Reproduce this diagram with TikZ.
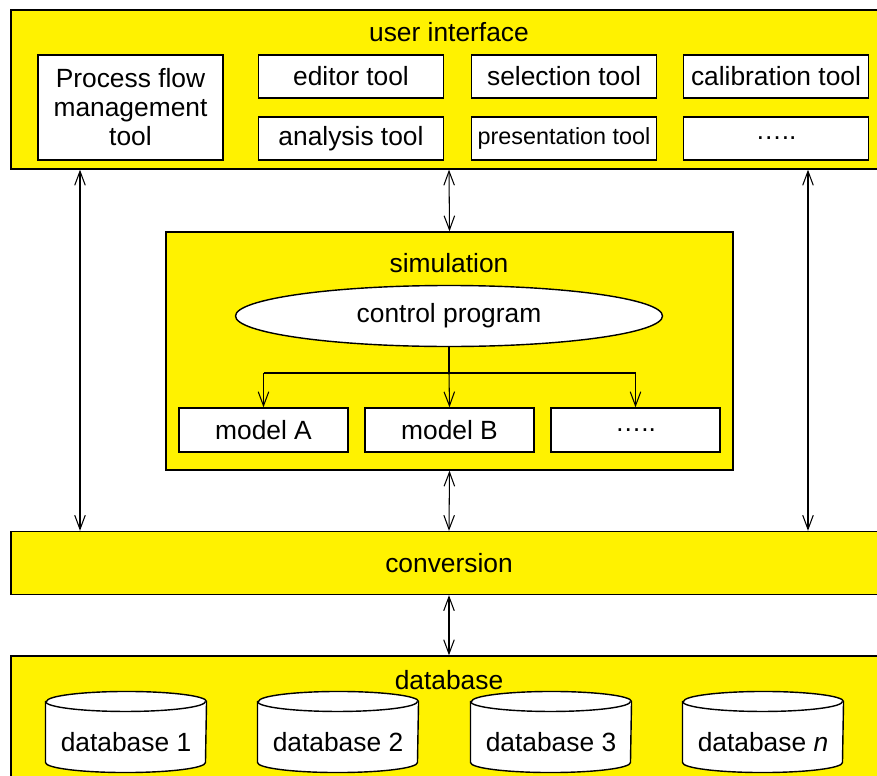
\documentclass[tikz,border=0pt]{standalone}
\usepackage{fontspec}
\setmainfont{Liberation Sans}
\usetikzlibrary{arrows.meta,shapes.geometric}

\tikzset{
  layer/.style={draw, fill=yellow, line width=0.8pt},
  tool/.style={draw, fill=white, line width=0.8pt, minimum width=3.7cm, minimum height=0.86cm},
  model/.style={draw, fill=white, line width=0.8pt, minimum width=3.38cm, minimum height=0.88cm},
  store/.style={minimum width=3.2cm, minimum height=1.6cm},
}

\begin{document}
\begin{tikzpicture}[x=0.2mm, y=-0.2mm, font=\fontsize{15}{16.5}\selectfont,
    >={Straight Barb[length=8pt,width=6pt]}, line width=0.6pt]
    \useasboundingbox (0,0) rectangle (877,776);
    \clip (0,0) rectangle (877,776);

    % user interface
    \node[layer, minimum width=17.52cm, minimum height=3.18cm] (ui) at (449,89.5) {};
    \node (uititle) at (449,32) {user interface};
    \node[tool, minimum height=2.1cm, align=center] (pf) at (130.5,107.5) {Process flow\\management\\tool};
    \node[tool] (edit) at (351,76.5) {editor tool};
    \node[tool] (anal) at (351,138.5) {analysis tool};
    \node[tool] (sel) at (564,76.5) {selection tool};
    \node[tool, font=\fontsize{13.3}{15}\selectfont] (pres) at (564,138.5) {presentation tool};
    \node[tool] (cal) at (776,76.5) {calibration tool};
    \node[tool] (more) at (776,138.5) {\dots..};

    % simulation
    \node[layer, minimum width=11.34cm, minimum height=4.76cm] (sim) at (449.5,351) {};
    \node (simtitle) at (449,263) {simulation};
    \node[draw, fill=white, line width=0.8pt, ellipse, minimum width=8.54cm, minimum height=1.22cm] (ctrl) at (449,316) {control program};
    \node[model] (ma) at (263.5,430) {model A};
    \node[model] (mb) at (449.5,430) {model B};
    \node[model] (mx) at (635.5,430) {\dots..};

    % conversion
    \node[layer, minimum width=17.52cm, minimum height=1.26cm] (conv) at (449,563) {conversion};

    % database
    \node[layer, minimum width=17.52cm, minimum height=2.6cm] (db) at (449,721) {};
    \node (dbtitle) at (449,680) {database};
    \node[store] (db1) at (126,732) {};
    \node[store] (db2) at (338,732) {};
    \node[store] (db3) at (551,732) {};
    \node[store] (dbn) at (763,732) {};
    % cylinders round the store nodes
    \foreach \n in {db1,db2,db3,dbn} {
      \draw[fill=white, line width=0.8pt] ([yshift=-0.2cm]\n.north west) -- ([yshift=0.2cm]\n.south west)
        arc[start angle=180, end angle=360, x radius=1.6cm, y radius=0.2cm]
        -- ([yshift=-0.2cm]\n.north east)
        arc[start angle=0, end angle=180, x radius=1.6cm, y radius=0.2cm] -- cycle;
      \draw[line width=0.8pt] ([yshift=-0.2cm]\n.north west)
        arc[start angle=180, end angle=360, x radius=1.6cm, y radius=0.2cm];
    }
    \node (db1t) at ([yshift=-0.2cm]db1.center) {database 1};
    \node (db2t) at ([yshift=-0.2cm]db2.center) {database 2};
    \node (db3t) at ([yshift=-0.2cm]db3.center) {database 3};
    \node (dbnt) at ([yshift=-0.2cm]dbn.center) {database \textit{n}};

    % connections
    \coordinate (lft) at (80,0);
    \coordinate (rgt) at (808,0);
    \coordinate (split) at (449,373);
    \draw[<->] (lft |- ui.south) -- (lft |- conv.north);
    \draw[<->] (rgt |- ui.south) -- (rgt |- conv.north);
    \draw[<->] (ui.south) -- (sim.north);
    \draw[<->] (sim.south) -- (conv.north);
    \draw[<->] (conv.south) -- (db.north);
    \draw (ctrl.south) -- (split);
    \draw (split -| ma.north) -- (split -| mx.north);
    \draw[->] (split -| ma.north) -- (ma.north);
    \draw[->] (split) -- (mb.north);
    \draw[->] (split -| mx.north) -- (mx.north);
\end{tikzpicture}
\end{document}
